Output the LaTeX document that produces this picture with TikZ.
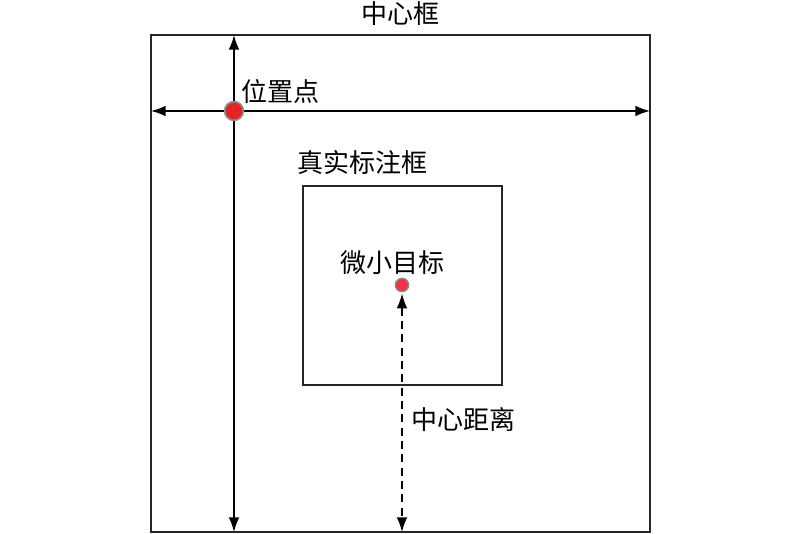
\documentclass[tikz,border=0pt]{standalone}
\usepackage{fontspec}
\newfontfamily\cjk{Noto Sans CJK SC}
\usetikzlibrary{arrows.meta}
\definecolor{dotred}{HTML}{E42228}
\definecolor{dotpink}{HTML}{E8354D}
\definecolor{dotedge}{HTML}{8A8A8A}
\begin{document}
\begin{tikzpicture}[x=0.75pt,y=-0.75pt,
  lbl/.style={font=\cjk\fontsize{19.5}{22}\selectfont, inner sep=0pt},
  boxline/.style={draw=black!85, line width=1.1pt},
  tip/.style={Latex[length=11pt,width=8pt]},
  arr/.style={line width=1.1pt, {Latex[length=11pt,width=8pt]}-{Latex[length=11pt,width=8pt]}},
  reddot/.style={circle, fill=dotred, draw=dotedge, line width=1.3pt, minimum size=14pt, inner sep=0pt},
  pinkdot/.style={circle, fill=dotpink, draw=dotedge, line width=1pt, minimum size=10pt, inner sep=0pt}]
\useasboundingbox (0,0) rectangle (800,534);
% outer box
\coordinate (oTL) at (151,35);
\coordinate (oBR) at (650,532);
\draw[boxline] (oTL) rectangle (oBR);
% inner box
\coordinate (iTL) at (303,186);
\coordinate (iBR) at (502,385);
\draw[boxline] (iTL) rectangle (iBR);
% labels
\node[lbl] (tcenter) at (400,14) {中心框};
\node[lbl, anchor=west] (tpos) at (241,92) {位置点};
\node[lbl, anchor=west] (ttrue) at (297,163) {真实标注框};
\node[lbl] (tsmall) at (392,263) {微小目标};
\node[lbl, anchor=west] (tdist) at (411,420) {中心距离};
% axis coordinates
\coordinate (vtop) at (234,35);
\coordinate (vbot) at (234,532);
\coordinate (hl) at (151,111);
\coordinate (hr) at (650,111);
\coordinate (dbot) at (402,532);
\draw[arr] (vtop) -- (vbot);
\draw[arr] (hl) -- (hr);
% dots
\node[reddot] (pos) at (234,111) {};
\node[pinkdot] (target) at (402,285) {};
\draw[line width=1.1pt, dash pattern=on 6pt off 4pt, {Latex[length=11pt,width=8pt]}-{Latex[length=11pt,width=8pt]}] (target.south) ++(0,-1pt) -- (dbot);
\end{tikzpicture}
\end{document}
